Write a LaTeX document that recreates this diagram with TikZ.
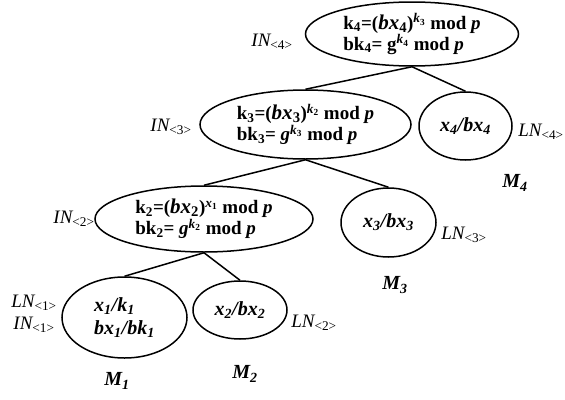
\documentclass[tikz,border=0pt]{standalone}
\usepackage{fontspec}
\setmainfont{Liberation Serif}
\usetikzlibrary{shapes.geometric}
\newcommand{\lowx}[1]{\textsubscript{#1}}
\newcommand{\highx}[1]{\textsuperscript{#1}}
\newcommand{\tagx}[1]{\textsubscript{\upshape\mdseries<#1>}}
\newcommand{\bxv}[1]{{\fontsize{21}{22}\selectfont\textit{bx}\lowx{#1}}}

\begin{document}
\begin{tikzpicture}[x=1pt,y=-1pt,
  knode/.style={draw,ellipse,line width=1.5pt,inner sep=0pt,align=left,
    font=\fontsize{19}{21}\selectfont\bfseries},
  leaf/.style={knode,font=\fontsize{20}{23}\selectfont\bfseries\itshape},
  lbl/.style={font=\fontsize{19}{21}\selectfont\itshape},
  mlbl/.style={font=\fontsize{20}{22}\selectfont\bfseries\itshape}]
\useasboundingbox (0,0) rectangle (565,399);

% key nodes
\node[knode,minimum width=213pt,minimum height=64pt] (in4) at (412,34)
  {k\lowx{4}=(\bxv{4})\highx{\textit{k}\lowx{3}} mod \textit{p}\\
   bk\lowx{4}= g\highx{\textit{k}\lowx{4}} mod \textit{p}};
\node[knode,minimum width=211pt,minimum height=69pt] (in3) at (305.5,124.5)
  {k\lowx{3}=(\bxv{3})\highx{\textit{k}\lowx{2}} mod \textit{p}\\
   bk\lowx{3}= \textit{g}\highx{\textit{k}\lowx{3}} mod \textit{p}};
\node[leaf,minimum width=93pt,minimum height=68pt] (ln4) at (465.5,126)
  {x\lowx{4}/bx\lowx{4}};
\node[knode,minimum width=218pt,minimum height=66pt] (in2) at (204,219)
  {k\lowx{2}=(\bxv{2})\highx{\textit{x}\lowx{1}} mod \textit{p}\\
   bk\lowx{2}= \textit{g}\highx{\textit{k}\lowx{2}} mod \textit{p}};
\node[leaf,minimum width=95pt,minimum height=69pt] (ln3) at (388.5,222.5)
  {x\lowx{3}/bx\lowx{3}};
\node[leaf,minimum width=125pt,minimum height=81pt] (ln1) at (124.5,317.5)
  {x\lowx{1}/k\lowx{1}\\ bx\lowx{1}/bk\lowx{1}};
\node[leaf,minimum width=94pt,minimum height=58pt] (ln2) at (240,310)
  {x\lowx{2}/bx\lowx{2}};

% tree edges
\draw[line width=1.5pt] (in4.south) -- (in3.north);
\draw[line width=1.5pt] (in4.south) -- (ln4.north);
\draw[line width=1.5pt] (in3.south) -- (in2.north);
\draw[line width=1.5pt] (in3.south) -- (ln3.north);
\draw[line width=1.5pt] (in2.south) -- (ln1.north);
\draw[line width=1.5pt] (in2.south) -- (ln2.north);

% node labels
\node[lbl] (tin4) at (272,42) {IN\tagx{4}};
\node[lbl] (tin3) at (171,127) {IN\tagx{3}};
\node[lbl] (tin2) at (74,219) {IN\tagx{2}};
\node[lbl] (tln1) at (34,303) {LN\tagx{1}};
\node[lbl] (tin1) at (34,325) {IN\tagx{1}};
\node[lbl] (tln2) at (314,323) {LN\tagx{2}};
\node[lbl] (tln3) at (464,235) {LN\tagx{3}};
\node[lbl] (tln4) at (541,132) {LN\tagx{4}};
\node[mlbl] (m1) at (117,381) {M\lowx{1}};
\node[mlbl] (m2) at (245,374) {M\lowx{2}};
\node[mlbl] (m3) at (395,285) {M\lowx{3}};
\node[mlbl] (m4) at (515,183) {M\lowx{4}};
\end{tikzpicture}
\end{document}
